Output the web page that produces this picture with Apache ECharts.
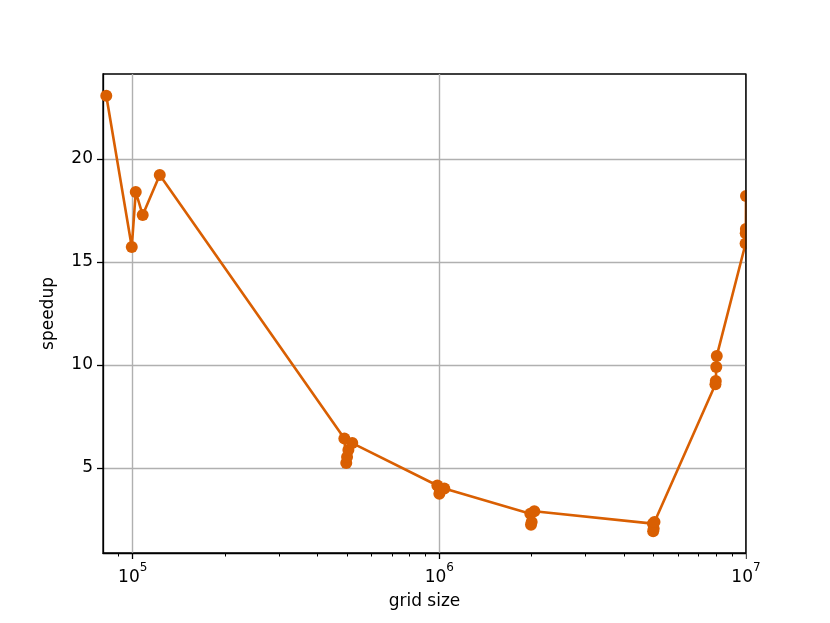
<!DOCTYPE html>
<html>
<head>
<meta charset="utf-8">
<script src="https://cdn.jsdelivr.net/npm/echarts@6/dist/echarts.min.js"></script>
<style>html,body{margin:0;padding:0;background:#fff}#c{width:830px;height:623px}</style>
</head>
<body>
<div id="c"></div>
<script>
// grid size (x) and measured speedup (y), in plotting order
const gridSize = [82000, 99300, 102300, 107800, 122500,
  490000, 497000, 500000, 505000, 520000,
  985000, 1000000, 1005000, 1038000,
  1980000, 1990000, 2000000, 2040000,
  4970000, 4980000, 5000000, 5030000,
  7950000, 7970000, 8000000, 8030000,
  9970000, 9980000, 9990000, 10000000];
const speedup = [23.07, 15.73, 18.40, 17.28, 19.22,
  6.43, 5.24, 5.53, 5.87, 6.21,
  4.15, 3.75, 3.90, 4.00,
  2.78, 2.25, 2.38, 2.90,
  2.30, 1.93, 2.05, 2.38,
  9.07, 9.22, 9.90, 10.44,
  15.90, 16.40, 16.60, 18.20];
const xMajorTicks = [1e5, 1e6, 1e7];
const xMinorTicks = [9e4, 2e5, 3e5, 4e5, 5e5, 6e5, 7e5, 8e5, 9e5,
  2e6, 3e6, 4e6, 5e6, 6e6, 7e6, 8e6, 9e6];
const yTicks = [5, 10, 15, 20];
const xName = 'grid size';
const yName = 'speedup';

const FONT = 'DejaVu Sans';
const color = '#d95f02';
const GL = 103, GT = 74, GR = 84, GB = 70, W = 830, H = 623;
const chart = echarts.init(document.getElementById('c'), null, {renderer: 'canvas'});
const pts = gridSize.map((g, i) => [g, speedup[i]]);
chart.setOption({
  animation: false,
  backgroundColor: '#fff',
  grid: {left: GL, top: GT, right: GR, bottom: GB, show: true, borderColor: '#000', borderWidth: 1.3, backgroundColor: 'transparent'},
  textStyle: {fontFamily: FONT},
  // white mask emulating clipping of markers at the right frame edge
  graphic: [{
    type: 'rect', z: 100, silent: true,
    shape: {x: W - GR + 0.7, y: GT - 8, width: 20, height: H - GT - GB + 16},
    style: {fill: '#fff'}
  }, {
    type: 'line', z: 101, silent: true,
    shape: {x1: W - GR, y1: GT, x2: W - GR, y2: H - GB},
    style: {stroke: '#000', lineWidth: 1.3}
  }],
  xAxis: [{
    type: 'log', logBase: 10, min: 80000, max: 1e7,
    name: xName, nameLocation: 'middle', nameGap: 40,
    nameTextStyle: {fontFamily: FONT, fontSize: 17, color: '#000'},
    axisLine: {show: true, lineStyle: {color: '#000', width: 1.3}},
    axisTick: {show: true, length: 6, inside: false, customValues: xMajorTicks, lineStyle: {color: '#000', width: 1.3}},
    axisLabel: {
      customValues: xMajorTicks, margin: 9, color: '#000', fontFamily: FONT,
      formatter: v => '{b|10}{s|' + Math.round(Math.log10(v)) + '}',
      rich: {
        b: {fontFamily: FONT, fontSize: 17, color: '#000', verticalAlign: 'bottom', lineHeight: 24},
        s: {fontFamily: FONT, fontSize: 12, color: '#000', verticalAlign: 'top', lineHeight: 24, padding: [0, 0, 8, 0]}
      }
    },
    splitLine: {show: true, lineStyle: {color: '#b0b0b0', width: 1.4}}
  }, {
    type: 'log', logBase: 10, min: 80000, max: 1e7, position: 'bottom',
    axisLine: {show: false},
    axisTick: {show: true, length: 3.5, customValues: xMinorTicks, lineStyle: {color: '#000', width: 1}},
    axisLabel: {show: false},
    splitLine: {show: false}
  }],
  yAxis: {
    type: 'value', min: 0.874, max: 24.126,
    name: yName, nameLocation: 'middle', nameGap: 46, nameRotate: 90,
    nameTextStyle: {fontFamily: FONT, fontSize: 17, color: '#000'},
    axisLine: {show: true, lineStyle: {color: '#000', width: 1.3}},
    axisTick: {show: true, length: 6, customValues: yTicks, lineStyle: {color: '#000', width: 1.3}},
    axisLabel: {customValues: yTicks, margin: 10, color: '#000', fontFamily: FONT, fontSize: 17},
    splitLine: {show: true, lineStyle: {color: '#b0b0b0', width: 1.4}}
  },
  series: [{
    type: 'line', xAxisIndex: 0, yAxisIndex: 0, data: pts,
    symbol: 'circle', symbolSize: 12, showAllSymbol: true,
    lineStyle: {color: color, width: 2.6},
    itemStyle: {color: color},
    clip: false
  }]
});
</script>
</body>
</html>
